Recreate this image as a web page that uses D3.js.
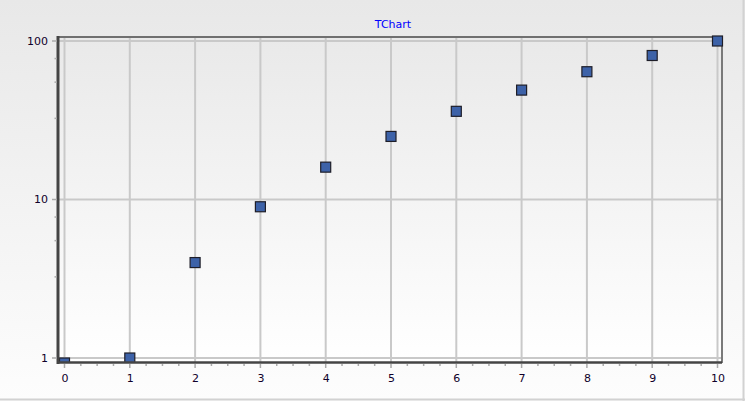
<!DOCTYPE html>
<html><head><meta charset="utf-8">
<script src="https://cdn.jsdelivr.net/npm/d3@7"></script>
<style>html,body{margin:0;padding:0;background:#fff;overflow:hidden}</style>
</head><body>
<script>
const title = "TChart";
const xValues = [0, 1, 2, 3, 4, 5, 6, 7, 8, 9, 10];
const yValues = [0.93, 1, 4, 9, 16, 25, 36, 49, 64, 81, 100];
const xTicks = [0, 1, 2, 3, 4, 5, 6, 7, 8, 9, 10];
const yTicks = [1, 10, 100];
const yMinorTicks = [3.25, 5.5, 7.75, 32.5, 55, 77.5];

(function () {
const W = 745, H = 401;
const svg = d3.select("body").append("svg").attr("width", W).attr("height", H)
  .style("font-family", "Verdana, 'DejaVu Sans', sans-serif");
const defs = svg.append("defs");
const g1 = defs.append("linearGradient").attr("id", "bg").attr("x1", 0).attr("y1", 0).attr("x2", 0).attr("y2", 1);
g1.append("stop").attr("offset", "0%").attr("stop-color", "#e8e8e8");
g1.append("stop").attr("offset", "100%").attr("stop-color", "#fdfdfd");
const g2 = defs.append("linearGradient").attr("id", "pa").attr("x1", 0).attr("y1", 0).attr("x2", 0).attr("y2", 1);
g2.append("stop").attr("offset", "0%").attr("stop-color", "#e9e9e9");
g2.append("stop").attr("offset", "100%").attr("stop-color", "#ffffff");

svg.append("rect").attr("x", 0).attr("y", 0).attr("width", W).attr("height", H).attr("fill", "url(#bg)");
svg.append("line").attr("x1", 0).attr("x2", W).attr("y1", 399.5).attr("y2", 399.5).attr("stroke", "#d2d2d2").attr("stroke-width", 2);
svg.append("line").attr("x1", 743.5).attr("x2", 743.5).attr("y1", 0).attr("y2", H).attr("stroke", "#d2d2d2").attr("stroke-width", 2);

const pLeft = 59, pRight = 722, pTop = 37, pBottom = 363;
const x = d3.scaleLinear().domain([0, 10]).range([64.5, 717.5]);
const y = d3.scaleLog().domain([1, 100]).range([358, 41]);

svg.append("rect").attr("x", pLeft).attr("y", pTop).attr("width", pRight - pLeft).attr("height", pBottom - pTop).attr("fill", "url(#pa)");

// grid
const grid = svg.append("g").attr("stroke", "#c9c9c9").attr("stroke-width", 2);
grid.selectAll(".vx").data(xTicks).join("line")
  .attr("x1", d => x(d)).attr("x2", d => x(d)).attr("y1", pTop).attr("y2", pBottom);
grid.selectAll(".hy").data(yTicks).join("line")
  .attr("x1", pLeft).attr("x2", pRight).attr("y1", d => y(d)).attr("y2", d => y(d));

// frame
svg.append("line").attr("x1", pLeft).attr("x2", pRight + 1).attr("y1", 37).attr("y2", 37).attr("stroke", "#707070").attr("stroke-width", 2);
svg.append("line").attr("x1", 722).attr("x2", 722).attr("y1", 36).attr("y2", pBottom).attr("stroke", "#7a7a7a").attr("stroke-width", 2);

// points
const clip = defs.append("clipPath").attr("id", "clip");
clip.append("rect").attr("x", pLeft).attr("y", 30).attr("width", pRight - pLeft + 5).attr("height", pBottom - 30);
svg.append("g").attr("clip-path", "url(#clip)").selectAll("rect.pt").data(xValues).join("rect")
  .attr("x", (d, i) => x(d) - 5).attr("y", (d, i) => y(yValues[i]) - 5)
  .attr("width", 10).attr("height", 10)
  .attr("fill", "#3d62a8").attr("stroke", "#1e1e28").attr("stroke-width", 1.2);

// axes lines
svg.append("line").attr("x1", 58).attr("x2", 58).attr("y1", 36).attr("y2", 364).attr("stroke", "#444").attr("stroke-width", 3);
svg.append("line").attr("x1", 57).attr("x2", 722).attr("y1", 362.5).attr("y2", 362.5).attr("stroke", "#444").attr("stroke-width", 2.5);

// y ticks
const ya = svg.append("g");
ya.selectAll("line.maj").data(yTicks).join("line")
  .attr("x1", 52).attr("x2", 57).attr("y1", d => y(d)).attr("y2", d => y(d)).attr("stroke", "#aaa").attr("stroke-width", 1.5);
ya.selectAll("line.min").data(yMinorTicks).join("line").attr("class", "min")
  .attr("x1", 54.5).attr("x2", 57).attr("y1", d => y(d)).attr("y2", d => y(d)).attr("stroke", "#aaa").attr("stroke-width", 1.5);
ya.selectAll("text").data(yTicks).join("text")
  .attr("x", 48).attr("y", d => y(d)).attr("dy", "0.36em").attr("text-anchor", "end")
  .attr("font-size", 11).attr("fill", "#10002a").text(d => d);

// x ticks
const xa = svg.append("g");
const xMinor = [];
for (let i = 0; i < 10; i++) for (let k = 1; k < 4; k++) xMinor.push(xTicks[i] + k * 0.25);
xa.selectAll("line.maj").data(xTicks).join("line")
  .attr("x1", d => x(d)).attr("x2", d => x(d)).attr("y1", 364).attr("y2", 368).attr("stroke", "#aaa").attr("stroke-width", 1.5);
xa.selectAll("line.min").data(xMinor).join("line").attr("class", "min")
  .attr("x1", d => x(d)).attr("x2", d => x(d)).attr("y1", 364).attr("y2", 366).attr("stroke", "#aaa").attr("stroke-width", 1.5);
xa.selectAll("text").data(xTicks).join("text")
  .attr("x", d => x(d) + 0.5).attr("y", 378).attr("dy", "0.36em").attr("text-anchor", "middle")
  .attr("font-size", 11).attr("fill", "#10002a").text(d => d);

svg.append("text").attr("x", 393).attr("y", 24).attr("dy", "0.36em").attr("text-anchor", "middle")
  .attr("font-size", 11).attr("fill", "#0000ff").text(title);
})();
</script>
</body></html>
